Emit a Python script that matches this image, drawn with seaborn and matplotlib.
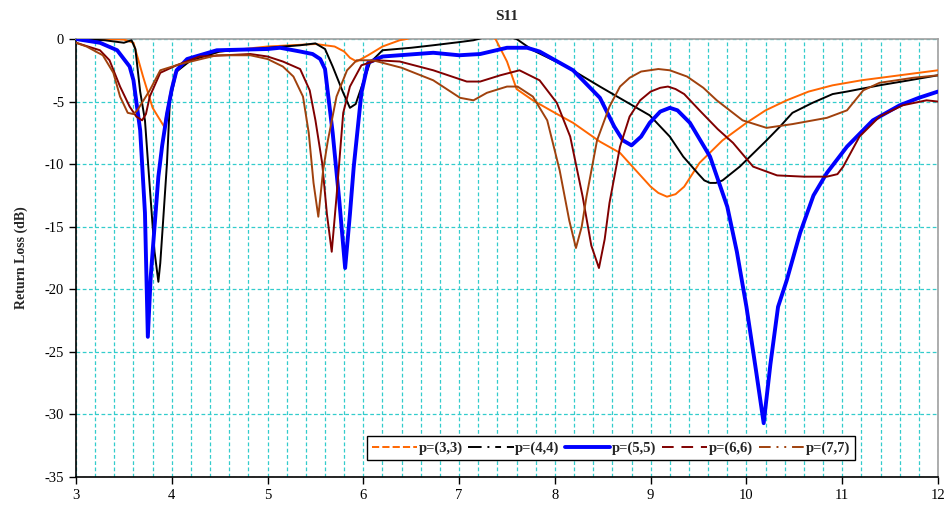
import numpy as np
import pandas as pd
import matplotlib
matplotlib.use("Agg")
import matplotlib.pyplot as plt
from matplotlib.lines import Line2D
from matplotlib.ticker import MultipleLocator
import seaborn as sns

# ------------------------
# data (frequency in GHz, S11 in dB)
# ------------------------
f_33 = [3.0, 3.3, 3.5, 3.6, 3.7, 3.8, 3.92, 3.98, 4.03, 4.1, 4.2, 4.5, 5.0, 5.5,
        5.7, 5.8, 5.86, 5.93, 6.05, 6.2, 6.38, 6.45, 6.6, 7.0, 7.3, 7.38, 7.5,
        7.6, 7.77, 8.0, 8.19, 8.47, 8.68, 8.81, 9.0, 9.08, 9.17, 9.26, 9.35,
        9.51, 9.75, 10.0, 10.2, 10.42, 10.65, 10.9, 11.2, 11.5, 11.8, 12.0]
s_33 = [0, 0, -0.05, -0.3, -3.0, -5.5, -7.0, -4.5, -2.8, -2.2, -1.7, -1.0, -0.6,
        -0.4, -0.6, -1.0, -1.5, -1.8, -1.3, -0.6, -0.1, 0.0, 0.3, 0.5, 0.3, 0.0,
        -1.8, -4.0, -4.9, -5.9, -6.7, -8.2, -9.1, -10.2, -11.8, -12.3, -12.6,
        -12.4, -11.8, -9.9, -8.1, -6.7, -5.7, -4.9, -4.2, -3.7, -3.3, -3.0,
        -2.7, -2.5]

f_44 = [3.0, 3.3, 3.5, 3.58, 3.62, 3.67, 3.72, 3.77, 3.82, 3.86, 3.88, 3.91,
        3.95, 3.98, 4.05, 4.2, 4.5, 5.0, 5.34, 5.5, 5.6, 5.68, 5.79, 5.86, 5.92,
        5.96, 6.07, 6.2, 6.5, 6.73, 7.0, 7.15, 7.3, 7.5, 7.6, 7.77, 8.12, 8.47,
        8.65, 8.99, 9.2, 9.34, 9.5, 9.56, 9.62, 9.68, 9.75, 9.93, 10.21, 10.35,
        10.48, 10.69, 10.9, 11.05, 11.39, 11.7, 12.0]
s_44 = [0, -0.1, -0.3, -0.1, -0.8, -4.2, -6.5, -11.8, -17.0, -19.4, -17.9,
        -14.5, -9.9, -5.0, -2.6, -1.7, -1.0, -0.7, -0.5, -0.35, -0.8, -2.2,
        -4.3, -5.5, -5.2, -4.3, -1.9, -0.9, -0.7, -0.5, -0.25, -0.1, 0.2, 0.2,
        0.0, -0.9, -2.2, -3.8, -4.6, -6.1, -7.8, -9.4, -10.8, -11.3, -11.5,
        -11.5, -11.3, -10.2, -8.1, -7.0, -5.9, -5.1, -4.4, -4.2, -3.7, -3.3,
        -2.9]

f_55 = [3.0, 3.25, 3.43, 3.56, 3.6, 3.67, 3.72, 3.75, 3.78, 3.82, 3.86, 3.9,
        3.95, 4.0, 4.05, 4.16, 4.47, 5.0, 5.13, 5.34, 5.47, 5.55, 5.6, 5.68,
        5.75, 5.81, 5.86, 5.9, 5.98, 6.05, 6.2, 6.73, 7.0, 7.22, 7.5, 7.71,
        7.84, 8.19, 8.47, 8.62, 8.71, 8.8, 8.9, 8.99, 9.1, 9.2, 9.28, 9.41,
        9.62, 9.8, 9.9, 10.0, 10.1, 10.18, 10.25, 10.33, 10.42, 10.56, 10.7,
        10.84, 11.05, 11.32, 11.6, 11.8, 12.0]
s_55 = [0, -0.3, -0.9, -2.2, -3.3, -7.3, -13.9, -23.8, -19.0, -15.0, -11.0,
        -8.5, -6.0, -4.0, -2.5, -1.6, -0.9, -0.8, -0.7, -1.0, -1.2, -1.6,
        -2.4, -7.5, -13.0, -18.3, -14.0, -10.2, -4.3, -1.9, -1.4, -1.1, -1.3,
        -1.2, -0.7, -0.7, -1.0, -2.5, -4.7, -7.0, -8.1, -8.5, -7.8, -6.7, -5.8,
        -5.5, -5.7, -6.7, -9.4, -13.4, -17.0, -21.4, -26.5, -30.7, -26.0,
        -21.4, -19.3, -15.5, -12.5, -10.7, -8.6, -6.5, -5.3, -4.7, -4.2]

f_66 = [3.0, 3.25, 3.35, 3.46, 3.56, 3.63, 3.69, 3.73, 3.77, 3.88, 4.05, 4.29,
        4.82, 5.0, 5.16, 5.34, 5.44, 5.5, 5.57, 5.62, 5.67, 5.72, 5.79, 5.86,
        5.98, 6.14, 6.38, 6.73, 7.08, 7.22, 7.43, 7.63, 7.84, 8.02, 8.16, 8.29,
        8.38, 8.46, 8.52, 8.57, 8.68, 8.78, 8.89, 9.0, 9.1, 9.18, 9.26, 9.35,
        9.51, 9.7, 9.86, 10.07, 10.32, 10.6, 10.84, 10.95, 11.01, 11.18, 11.39,
        11.63, 11.88, 12.0]
s_66 = [-0.3, -0.9, -1.7, -3.8, -5.4, -6.2, -6.5, -6.0, -4.6, -2.7, -2.1, -1.4,
        -1.2, -1.4, -1.8, -2.4, -4.1, -6.5, -9.9, -14.0, -17.0, -12.6, -5.9,
        -3.8, -2.1, -1.7, -1.8, -2.5, -3.4, -3.4, -2.9, -2.5, -3.3, -5.1, -7.8,
        -12.6, -16.5, -18.3, -16.0, -13.1, -8.6, -6.2, -4.9, -4.2, -3.9, -3.8,
        -4.0, -4.4, -5.7, -7.2, -8.3, -10.2, -10.9, -11.0, -11.0, -10.8, -10.2,
        -7.8, -6.2, -5.3, -4.9, -5.0]

f_77 = [3.0, 3.11, 3.28, 3.39, 3.46, 3.54, 3.6, 3.64, 3.77, 3.88, 4.09, 4.47,
        4.82, 5.0, 5.16, 5.27, 5.37, 5.43, 5.48, 5.53, 5.58, 5.63, 5.72, 5.83,
        5.93, 6.1, 6.4, 6.73, 7.01, 7.15, 7.29, 7.5, 7.61, 7.77, 7.92, 8.05,
        8.15, 8.22, 8.28, 8.33, 8.44, 8.57, 8.68, 8.78, 8.9, 9.08, 9.2, 9.38,
        9.55, 9.69, 9.96, 10.21, 10.48, 10.84, 11.05, 11.22, 11.39, 11.74, 12.0]
s_77 = [-0.3, -0.6, -1.3, -2.7, -4.6, -5.9, -6.0, -5.7, -4.1, -2.5, -2.0, -1.3,
        -1.3, -1.6, -2.2, -3.0, -4.6, -7.5, -11.5, -14.2, -10.5, -8.1, -4.6,
        -2.5, -1.7, -1.7, -2.3, -3.3, -4.7, -4.9, -4.3, -3.8, -3.8, -4.6, -6.5,
        -10.5, -14.5, -16.7, -15.0, -12.6, -8.1, -5.4, -3.8, -3.1, -2.6, -2.4,
        -2.5, -3.0, -3.9, -4.9, -6.5, -7.1, -6.8, -6.3, -5.7, -4.1, -3.5, -3.1,
        -2.9]

labels = ["p=(3,3)", "p=(4,4)", "p=(5,5)", "p=(6,6)", "p=(7,7)"]

# ------------------------
# styles
# ------------------------
colors = ["#FF6600", "#000000", "#0000FF", "#800000", "#A0410D"]
widths = [1.4, 1.4, 2.8, 1.4, 1.4]
dashes = ["--", (0, (7, 3, 1, 3, 3, 3)), "-", (0, (6, 4)), (0, (6, 3, 1, 3, 1, 3))]

sns.set_style("white")
plt.rcParams["font.family"] = ["Liberation Serif", "DejaVu Serif"]
plt.rcParams["axes.unicode_minus"] = False

fig = plt.figure(figsize=(9.49, 5.08), dpi=100)
ax = fig.add_axes([76 / 949, 1 - 477 / 508, (938 - 76) / 949, (477 - 39) / 508])

series = [(f_33, s_33), (f_44, s_44), (f_55, s_55), (f_66, s_66), (f_77, s_77)]
for (f, s), lab, c, w in zip(series, labels, colors, widths):
    d = pd.DataFrame({"f": f, "s11": s})
    sns.lineplot(data=d, x="f", y="s11", color=c, linewidth=w, ax=ax,
                 label=lab, legend=False, zorder=3)

ax.set_xlim(3, 12)
ax.set_ylim(-35, 0)
ax.xaxis.set_major_locator(MultipleLocator(1))
ax.xaxis.set_minor_locator(MultipleLocator(0.2))
ax.yaxis.set_major_locator(MultipleLocator(5))

grid_kw = dict(color="#33CCCC", linestyle=(0, (3, 2)), linewidth=0.9)
ax.grid(True, axis="x", which="both", **grid_kw)
ax.grid(True, axis="y", which="major", **grid_kw)
ax.set_axisbelow(True)

ax.tick_params(axis="both", which="major", direction="out", length=5, width=1,
               labelsize=10.5, colors="black", bottom=True, left=True)
ax.tick_params(axis="x", which="minor", length=0)

for side in ["left", "bottom"]:
    ax.spines[side].set_color("black")
    ax.spines[side].set_linewidth(1.2)
for side in ["top", "right"]:
    ax.spines[side].set_color("#A0A0A0")
    ax.spines[side].set_linewidth(1.2)

ax.set_xlabel("")
ax.set_ylabel("Return Loss (dB)", fontsize=10, fontweight="bold", labelpad=12)
ax.set_title("S11", fontsize=11, fontweight="bold", pad=14)

handles = [Line2D([0], [0], color=c, linewidth=w, linestyle=ls)
           for c, w, ls in zip(colors, widths, dashes)]
leg = ax.legend(handles, labels, loc="lower right", bbox_to_anchor=(0.912, 0.022),
                ncol=5, frameon=True, fancybox=False, edgecolor="black",
                framealpha=1, handlelength=3.1, handletextpad=0.1,
                columnspacing=0.4, borderpad=0.35,
                prop={"weight": "bold", "size": 10.5})
leg.get_frame().set_linewidth(1.0)

fig.savefig("out.png", dpi=100)
